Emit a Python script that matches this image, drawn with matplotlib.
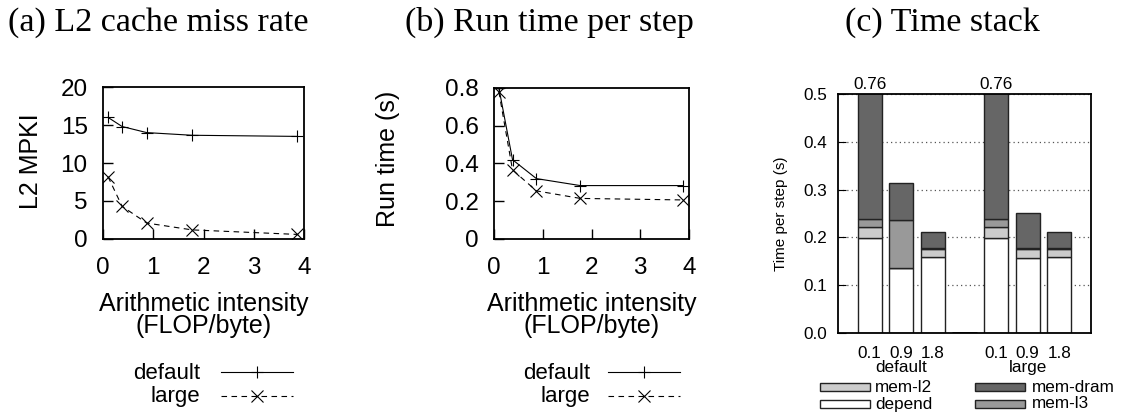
import matplotlib
matplotlib.use("Agg")
import matplotlib.pyplot as plt
from matplotlib.lines import Line2D
from matplotlib.patches import Rectangle
import numpy as np

# ---------------- data ----------------
intensity = [0.1, 0.38, 0.87, 1.77, 3.87]
mpki_default = [16.0, 14.8, 14.0, 13.65, 13.5]
mpki_large = [8.2, 4.3, 2.1, 1.2, 0.6]
rt_default = [0.80, 0.42, 0.32, 0.283, 0.283]
rt_large = [0.78, 0.366, 0.255, 0.215, 0.207]

bar_labels = ["0.1", "0.9", "1.8", "0.1", "0.9", "1.8"]
groups = ["default", "large"]
depend = [0.198, 0.136, 0.158, 0.198, 0.157, 0.158]
mem_l2 = [0.023, 0.0, 0.018, 0.023, 0.018, 0.018]
mem_l3 = [0.017, 0.101, 0.001, 0.017, 0.003, 0.001]
mem_dram = [0.522, 0.076, 0.034, 0.522, 0.074, 0.034]

W, H = 1125, 412
plt.rcParams['font.family'] = ['Liberation Sans', 'DejaVu Sans']
fig = plt.figure(figsize=(W / 100, H / 100), dpi=100)

def box(l, t, r, b):
    return [l / W, 1 - b / H, (r - l) / W, (b - t) / H]

def fx(x):
    return x / W

def fy(y):
    return 1 - y / H

SERIF = ['Liberation Serif', 'DejaVu Serif']
TFS = 24.5
LFS = 18
TKS = 17.5

def line_panel(ax, yd, yl, ylim, yticks, ylabel, ylab_x, ylab_y, fmt):
    ax.plot(intensity, yd, '-', color='black', lw=0.8, marker='+', ms=8, mew=0.8)
    ax.plot(intensity, yl, '--', color='black', lw=0.8, marker='x', ms=8, mew=0.8,
            dashes=(5, 4))
    ax.set_xlim(0, 4)
    ax.set_ylim(*ylim)
    ax.set_xticks([0, 1, 2, 3, 4])
    ax.set_yticks(yticks)
    ax.set_yticklabels([fmt(v) for v in yticks])
    ax.tick_params(direction='in', length=7, width=1, labelsize=TKS,
                   top=False, right=False)
    ax.tick_params(axis='y', pad=11)
    ax.tick_params(axis='x', pad=13)
    for s in ax.spines.values():
        s.set_linewidth(1.3)
    ax.set_ylabel(ylabel, fontsize=LFS)
    ax.yaxis.set_label_coords(ylab_x, ylab_y)
    ax.set_xlabel("Arithmetic intensity\n(FLOP/byte)", fontsize=LFS, linespacing=0.85)
    ax.xaxis.label.set_va('center')

# (a)
axa = fig.add_axes(box(103, 87, 304, 239))
line_panel(axa, mpki_default, mpki_large, (0, 20), [0, 5, 10, 15, 20], "L2 MPKI",
           -0.30, 0.51, lambda v: f"{v:g}")
axa.xaxis.set_label_coords(0.5, (239 - 315) / 152)
# (b)
axb = fig.add_axes(box(494, 88, 689, 239))
line_panel(axb, rt_default, rt_large, (0, 0.8), [0, 0.2, 0.4, 0.6, 0.8], "Run time (s)",
           -0.48, 0.53, lambda v: "0" if v == 0 else f"{v:.1f}")
axb.xaxis.set_label_coords(0.5, (239 - 315) / 151)

# manual legends for (a) and (b)
def manual_legend(xr, x0, x1):
    for yb, yl, lab, ls, mk in [(379, 372, "default", '-', '+'),
                                (402, 396, "large", '--', 'x')]:
        fig.text(fx(xr), fy(yb), lab, ha='right', va='baseline', fontsize=16)
        ln = Line2D([fx(x0), fx(x1)], [fy(yl), fy(yl)], transform=fig.transFigure,
                    color='black', lw=0.8, ls=ls)
        if ls == '--':
            ln.set_dashes((5, 4))
        fig.add_artist(ln)
        mkr = Line2D([fx((x0 + x1) / 2)], [fy(yl)], transform=fig.transFigure,
                     color='black', marker=mk, ms=8, mew=0.8, ls='none')
        fig.add_artist(mkr)

manual_legend(200, 221, 293)
manual_legend(590, 608, 680)

# titles
for cx, t in [(158, "(a) L2 cache miss rate"), (549, "(b) Run time per step"),
              (942, "(c) Time stack")]:
    fig.text(fx(cx), fy(31), t, ha='center', va='baseline', fontsize=TFS, family=SERIF)

# (c)
CFS = 12.3
axc = fig.add_axes(box(838, 94, 1091, 333))
xpos = np.array([0, 1, 2, 4, 5, 6])
bw = 0.76
cols = {'depend': 'white', 'mem-l2': '#cccccc', 'mem-l3': '#999999', 'mem-dram': '#666666'}
bottom = np.zeros(len(xpos))
for name, vals in [('depend', depend), ('mem-l2', mem_l2), ('mem-l3', mem_l3),
                   ('mem-dram', mem_dram)]:
    axc.bar(xpos, vals, bw, bottom=bottom, color=cols[name], edgecolor='#222222',
            lw=1.0, zorder=3)
    bottom = bottom + np.array(vals)
# zero-height separator bar between groups
axc.bar([3], [0], bw, color='white', edgecolor='black', lw=2.0, zorder=3)
axc.set_xlim(-1, 7)
axc.set_ylim(0, 0.5)
yt = [0, 0.1, 0.2, 0.3, 0.4, 0.5]
axc.set_yticks(yt)
axc.set_yticklabels([f"{v:.1f}" for v in yt])
axc.set_xticks(xpos)
axc.set_xticklabels(bar_labels)
axc.tick_params(axis='y', direction='in', length=6, labelsize=CFS, pad=8, right=False)
axc.tick_params(axis='x', length=0, labelsize=CFS, pad=9)
axc.yaxis.grid(True, ls=(0, (1, 2.5)), color='#555555', lw=0.9, zorder=0)
for s in axc.spines.values():
    s.set_linewidth(1.3)
    s.set_zorder(5)
axc.set_ylabel("Time per step (s)", fontsize=11)
axc.yaxis.set_label_coords(-0.198, 0.5)
totals = bottom
for x, t in zip(xpos, totals):
    if t > 0.5:
        axc.text(x, 0.505, f"{t:.2f}", ha='center', va='bottom', fontsize=CFS)
for gx, g in zip([1, 5], groups):
    axc.text(gx, -(368 - 333) / 478.6, g, ha='center', va='center', fontsize=CFS)

# legend for (c)
leg_items = [("mem-l2", 820, 875, 387), ("depend", 820, 875, 404),
             ("mem-dram", 975, 1032, 387), ("mem-l3", 975, 1032, 404)]
for lab, x0, xt, y in leg_items:
    r = Rectangle((fx(x0), fy(y + 4)), 50 / W, 8 / H, transform=fig.transFigure,
                  facecolor=cols[lab], edgecolor='#222222', lw=1.0)
    fig.add_artist(r)
    fig.text(fx(xt), fy(y), lab, ha='left', va='center', fontsize=CFS)

fig.savefig("out.png", dpi=100)
